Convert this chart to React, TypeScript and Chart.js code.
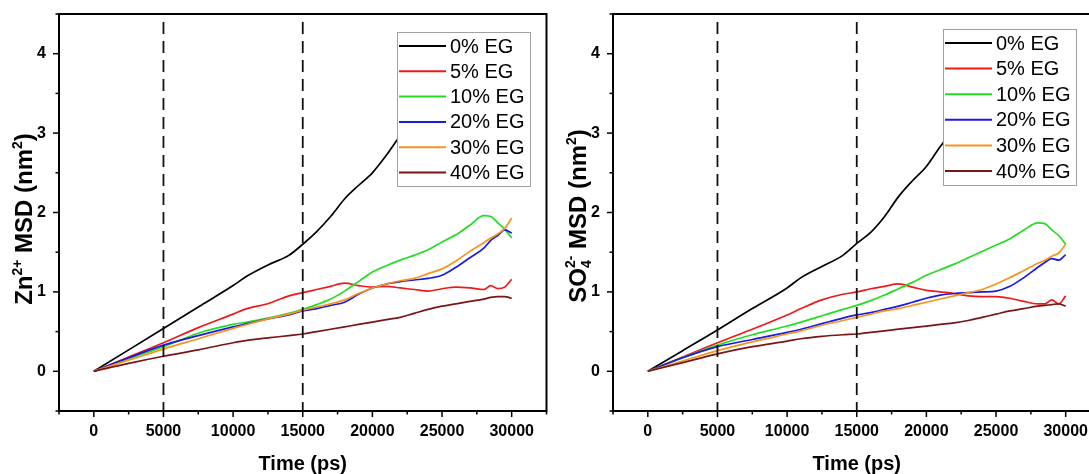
import React, { useEffect, useRef } from 'react';
import { Chart, registerables } from 'chart.js';

Chart.register(...registerables);

const FONT = "'Liberation Sans', Arial, Helvetica, sans-serif";

// ---------- data ----------
const times = [0, 2500, 5000, 7500, 10000, 11000, 12500, 14000, 15000, 16000, 17000, 18000, 19000, 20000, 21000, 22000, 23000, 24000, 25000, 26000, 27000, 28000, 28500, 29000, 29500, 30000];

const seriesLabels = ['0% EG', '5% EG', '10% EG', '20% EG', '30% EG', '40% EG'];
const seriesColors = ['#000000', '#ee1a1a', '#22dd22', '#1a1ae6', '#f7941d', '#7a1515'];

// Zn2+ MSD (nm^2)
const zn0 = [0, 0.27, 0.54, 0.81, 1.08, 1.2, 1.34, 1.46, 1.6, 1.76, 1.95, 2.17, 2.34, 2.5, 2.72, 2.97, 3.2, 3.4, 3.55, 3.68, 3.78, 3.87, 3.92, 3.96, 4.0, 4.04];
const zn5 = [0, 0.18, 0.36, 0.55, 0.72, 0.79, 0.85, 0.95, 0.99, 1.03, 1.07, 1.11, 1.08, 1.06, 1.07, 1.05, 1.03, 1.01, 1.04, 1.06, 1.05, 1.03, 1.08, 1.04, 1.06, 1.16];
const zn10 = [0, 0.16, 0.31, 0.48, 0.59, 0.62, 0.67, 0.73, 0.78, 0.84, 0.91, 1.01, 1.13, 1.25, 1.33, 1.4, 1.46, 1.53, 1.63, 1.72, 1.84, 1.96, 1.95, 1.87, 1.79, 1.68];
const zn20 = [0, 0.17, 0.33, 0.45, 0.56, 0.6, 0.66, 0.71, 0.76, 0.79, 0.83, 0.87, 0.97, 1.05, 1.1, 1.13, 1.15, 1.17, 1.21, 1.31, 1.43, 1.55, 1.65, 1.71, 1.78, 1.74];
const zn30 = [0, 0.14, 0.28, 0.41, 0.54, 0.59, 0.66, 0.72, 0.77, 0.81, 0.85, 0.9, 0.98, 1.05, 1.1, 1.14, 1.17, 1.23, 1.29, 1.39, 1.51, 1.62, 1.68, 1.73, 1.8, 1.93];
const zn40 = [0, 0.1, 0.19, 0.27, 0.36, 0.39, 0.42, 0.45, 0.47, 0.5, 0.53, 0.56, 0.59, 0.62, 0.65, 0.68, 0.73, 0.78, 0.82, 0.85, 0.88, 0.91, 0.93, 0.94, 0.94, 0.92];

// SO4 2- MSD (nm^2)
const so0 = [0, 0.26, 0.52, 0.79, 1.05, 1.18, 1.32, 1.46, 1.61, 1.75, 1.95, 2.2, 2.4, 2.58, 2.83, 3.05, 3.25, 3.42, 3.56, 3.68, 3.78, 3.86, 3.9, 3.94, 3.98, 4.02];
const so5 = [0, 0.18, 0.36, 0.53, 0.71, 0.79, 0.9, 0.97, 1.0, 1.04, 1.07, 1.1, 1.06, 1.02, 1.0, 0.98, 0.95, 0.94, 0.94, 0.92, 0.88, 0.85, 0.85, 0.9, 0.85, 0.95];
const so10 = [0, 0.17, 0.33, 0.46, 0.57, 0.62, 0.7, 0.78, 0.83, 0.89, 0.96, 1.04, 1.12, 1.21, 1.28, 1.35, 1.43, 1.51, 1.59, 1.67, 1.78, 1.87, 1.86, 1.78, 1.71, 1.6];
const so20 = [0, 0.17, 0.31, 0.4, 0.49, 0.53, 0.6, 0.67, 0.71, 0.74, 0.78, 0.82, 0.87, 0.92, 0.96, 0.98, 0.99, 1.0, 1.01, 1.07, 1.18, 1.31, 1.37, 1.42, 1.4, 1.47];
const so30 = [0, 0.13, 0.26, 0.37, 0.47, 0.51, 0.58, 0.64, 0.68, 0.72, 0.76, 0.79, 0.83, 0.87, 0.91, 0.95, 0.99, 1.03, 1.1, 1.18, 1.27, 1.36, 1.4, 1.45, 1.49, 1.6];
const so40 = [0, 0.11, 0.22, 0.31, 0.38, 0.41, 0.44, 0.46, 0.47, 0.49, 0.51, 0.53, 0.55, 0.57, 0.59, 0.61, 0.64, 0.68, 0.72, 0.76, 0.79, 0.82, 0.83, 0.84, 0.85, 0.82];

// reference (dashed) times
const markerTimes = [5000, 15000];
const markerYRange = [4.4, -0.5];

// axes
const xRange = [-2500, 32500];
const yRange = [-0.5, 4.5];
const xMajorTicks = [0, 5000, 10000, 15000, 20000, 25000, 30000];
const xMinorTicks = [-2500, 2500, 7500, 12500, 17500, 22500, 27500, 32500];
const yMajorTicks = [0, 1, 2, 3, 4];
const yMinorTicks = [-0.5, 0.5, 1.5, 2.5, 3.5, 4.5];
const xTitle = 'Time (ps)';

type Seg = { text: string; size: number; shift: number; stack?: boolean };

const znTitle: Seg[] = [
  { text: 'Zn', size: 24, shift: 0 },
  { text: '2+', size: 14, shift: 10 },
  { text: ' MSD (nm', size: 24, shift: 0 },
  { text: '2', size: 14, shift: 10 },
  { text: ')', size: 24, shift: 0 },
];
const soTitle: Seg[] = [
  { text: 'SO', size: 24, shift: 0 },
  { text: '4', size: 14, shift: -5 },
  { text: '2-', size: 14, shift: 11, stack: true },
  { text: ' MSD (nm', size: 24, shift: 0 },
  { text: '2', size: 14, shift: 10 },
  { text: ')', size: 24, shift: 0 },
];

// ---------- plugin ----------
const decorPlugin = {
  id: 'decor',
  afterDraw(chart: any, _args: any, opts: any) {
    const ctx: CanvasRenderingContext2D = chart.ctx;
    const area = chart.chartArea;
    const xs = chart.scales.x;
    const ys = chart.scales.y;
    ctx.save();
    // tick marks
    ctx.strokeStyle = '#000';
    ctx.lineWidth = 1.5;
    xs.ticks.forEach((t: any) => {
      const px = xs.getPixelForValue(t.value);
      const len = xMajorTicks.includes(t.value) ? 6 : 3.5;
      ctx.beginPath();
      ctx.moveTo(px, area.bottom);
      ctx.lineTo(px, area.bottom + len);
      ctx.stroke();
    });
    ys.ticks.forEach((t: any) => {
      const py = ys.getPixelForValue(t.value);
      const len = yMajorTicks.includes(t.value) ? 6 : 3.5;
      ctx.beginPath();
      ctx.moveTo(area.left, py);
      ctx.lineTo(area.left - len, py);
      ctx.stroke();
    });

    // legend
    const L = opts.legend;
    const bx = area.left + L.dx;
    const by = area.top + L.dy;
    ctx.fillStyle = '#ffffff';
    ctx.fillRect(bx, by, L.w, L.h);
    ctx.strokeStyle = '#a0a0a0';
    ctx.lineWidth = 1;
    ctx.strokeRect(bx + 0.5, by + 0.5, L.w, L.h);
    const items = chart.data.datasets.filter((d: any) => seriesLabels.includes(d.label));
    ctx.font = `20px ${FONT}`;
    ctx.textBaseline = 'middle';
    ctx.textAlign = 'left';
    items.forEach((d: any, i: number) => {
      const y = by + L.first + i * L.gap;
      ctx.strokeStyle = d.borderColor;
      ctx.lineWidth = 2;
      ctx.beginPath();
      ctx.moveTo(bx + 2, y);
      ctx.lineTo(bx + 49, y);
      ctx.stroke();
      ctx.fillStyle = '#000';
      ctx.fillText(d.label, bx + 53, y + 1);
    });

    // frame
    ctx.strokeStyle = '#000';
    ctx.lineWidth = 2;
    ctx.strokeRect(area.left, area.top, area.right - area.left, area.bottom - area.top);

    // rich y title
    const segs: Seg[] = opts.title;
    const widths = segs.map((s) => {
      ctx.font = `bold ${s.size}px ${FONT}`;
      return ctx.measureText(s.text).width;
    });
    const pos: number[] = [];
    let x = 0;
    let prevStart = 0;
    let prevW = 0;
    segs.forEach((s, i) => {
      const w = widths[i];
      if (s.stack) {
        pos.push(prevStart);
        prevW = Math.max(prevW, w);
        x = prevStart + prevW;
      } else {
        pos.push(x);
        prevStart = x;
        prevW = w;
        x += w;
      }
    });
    const total = x;
    const cx = area.left - opts.titleDx;
    const cy = opts.titleCy;
    ctx.translate(cx, cy);
    ctx.rotate(-Math.PI / 2);
    ctx.fillStyle = '#000';
    ctx.textBaseline = 'alphabetic';
    const base = 0.358 * 24;
    segs.forEach((s, i) => {
      ctx.font = `bold ${s.size}px ${FONT}`;
      ctx.fillText(s.text, -total / 2 + pos[i], base - s.shift);
    });
    ctx.restore();
  },
};

type PanelCfg = {
  left: number;
  width: number;
  series: number[][];
  title: Seg[];
  titleCy: number;
  legend: { dx: number; dy: number; w: number; h: number; first: number; gap: number };
};

const PLOT_LEFT = 59;
const PLOT_W = 487.5;

const zeroPad = (s: any) => {
  s.paddingLeft = 0;
  s.paddingRight = 0;
  s.paddingTop = 0;
  s.paddingBottom = 0;
};

function Panel({ cfg }: { cfg: PanelCfg }) {
  const ref = useRef<HTMLCanvasElement>(null);
  useEffect(() => {
    const datasets: any[] = [];
    markerTimes.forEach((t) => {
      datasets.push({
        label: 'marker-' + t,
        data: markerYRange.map((y) => ({ x: t, y })),
        borderColor: '#111',
        borderWidth: 1.8,
        borderDash: [12, 7],
        pointRadius: 0,
        fill: false,
        order: 0,
      });
    });
    cfg.series.forEach((vals, i) => {
      datasets.push({
        label: seriesLabels[i],
        data: times.map((t, j) => ({ x: t, y: vals[j] })),
        borderColor: seriesColors[i],
        borderWidth: 1.7,
        pointRadius: 0,
        fill: false,
        cubicInterpolationMode: 'monotone',
        order: 10 - i,
      });
    });
    const chart = new Chart(ref.current as HTMLCanvasElement, {
      type: 'line',
      data: { datasets },
      options: {
        animation: false,
        responsive: false,
        maintainAspectRatio: false,
        events: [],
        layout: { padding: { left: 0, top: 14, right: cfg.width - PLOT_LEFT - PLOT_W, bottom: 0 } },
        plugins: {
          legend: { display: false },
          tooltip: { enabled: false },
          decor: { legend: cfg.legend, title: cfg.title, titleCy: cfg.titleCy, titleDx: 36 },
        } as any,
        scales: {
          x: {
            type: 'linear',
            min: xRange[0],
            max: xRange[1],
            afterBuildTicks: (s: any) => {
              s.ticks = [...xMajorTicks, ...xMinorTicks].sort((a, b) => a - b).map((v) => ({ value: v }));
            },
            ticks: {
              autoSkip: false,
              maxRotation: 0,
              minRotation: 0,
              color: '#000',
              padding: 11,
              font: { family: FONT, size: 16, weight: 'bold' },
              callback: (v: any) => (xMajorTicks.includes(v) ? String(v) : ''),
            },
            grid: { display: false, drawTicks: false },
            border: { display: false },
            title: {
              display: true,
              text: xTitle,
              color: '#000',
              font: { family: FONT, size: 20, weight: 'bold', lineHeight: 1 },
              padding: { top: 0, bottom: 0 },
            },
            afterFit: (s: any) => {
              s.height = 63;
              zeroPad(s);
            },
          },
          y: {
            type: 'linear',
            min: yRange[0],
            max: yRange[1],
            afterBuildTicks: (s: any) => {
              s.ticks = [...yMajorTicks, ...yMinorTicks].sort((a, b) => a - b).map((v) => ({ value: v }));
            },
            ticks: {
              autoSkip: false,
              color: '#000',
              padding: 13,
              font: { family: FONT, size: 16, weight: 'bold' },
              callback: (v: any) => (yMajorTicks.includes(v) ? String(v) : ''),
            },
            grid: { display: false, drawTicks: false },
            border: { display: false },
            title: { display: false },
            afterFit: (s: any) => {
              s.width = PLOT_LEFT;
              zeroPad(s);
            },
          },
        },
      } as any,
      plugins: [decorPlugin],
    });
    return () => chart.destroy();
  }, []);
  return (
    <div style={{ position: 'absolute', left: cfg.left, top: 0, width: cfg.width, height: 474 }}>
      <canvas ref={ref} width={cfg.width} height={474} style={{ display: 'block', width: cfg.width, height: 474 }} />
    </div>
  );
}

const leftPanel: PanelCfg = {
  left: 0,
  width: 554,
  series: [zn0, zn5, zn10, zn20, zn30, zn40],
  title: znTitle,
  titleCy: 219,
  legend: { dx: 338, dy: 18, w: 133, h: 154, first: 14, gap: 25.3 },
};

const rightPanel: PanelCfg = {
  left: 554,
  width: 548,
  series: [so0, so5, so10, so20, so30, so40],
  title: soTitle,
  titleCy: 216,
  legend: { dx: 330, dy: 15, w: 133, h: 156, first: 14, gap: 25.6 },
};

export default function App() {
  return (
    <div style={{ position: 'absolute', left: 0, top: 0, width: 1089, height: 474, overflow: 'hidden', background: '#fff' }}>
      <Panel cfg={leftPanel} />
      <Panel cfg={rightPanel} />
    </div>
  );
}
